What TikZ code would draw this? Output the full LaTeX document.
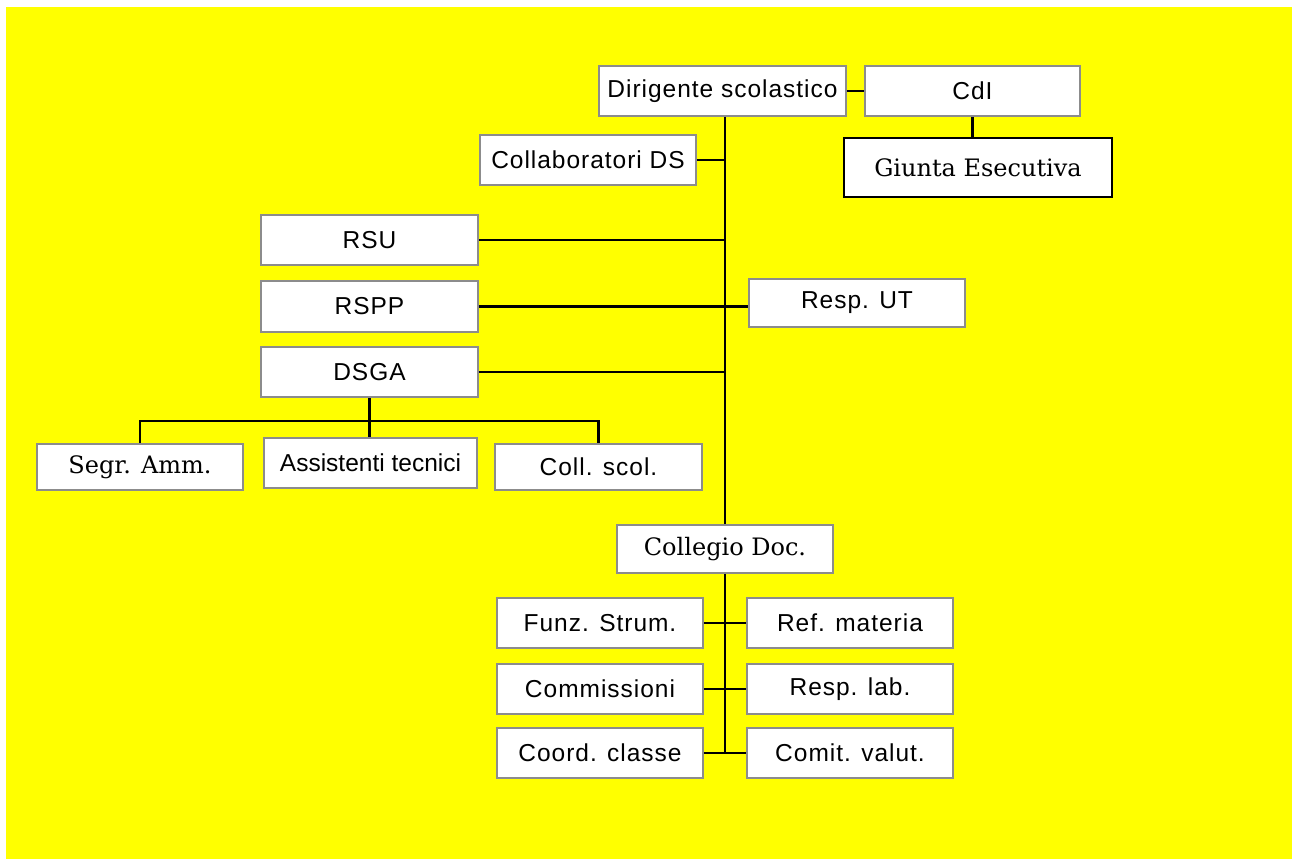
\documentclass[tikz,border=0pt]{standalone}
\usepackage{fontspec}
\setmainfont{Liberation Sans}[LetterSpace=4]
\newfontfamily\slabfont{DejaVu Serif}
\definecolor{bgyellow}{RGB}{255,255,0}
\definecolor{boxgray}{RGB}{140,140,140}
\begin{document}
\begin{tikzpicture}[x=1pt,y=-1pt,
  box/.style={draw=boxgray,line width=1.6pt,fill=white,inner sep=0pt,
    minimum width=216pt,minimum height=50pt,font=\fontsize{24.5}{28}\selectfont},
  serifbox/.style={box,font=\slabfont\fontsize{24}{28}\selectfont},
  link/.style={draw=black,line width=2.2pt}]
\useasboundingbox (0,0) rectangle (1292,859);
\fill[white] (0,0) rectangle (1292,859);
\fill[bgyellow] (6,7) rectangle (1292,859);

% nodes
\node[box,minimum width=247pt] (ds) at (722.5,91) {Dirigente scolastico};
\node[box,minimum width=215pt] (cdi) at (972.5,91) {CdI};
\node[serifbox,draw=black,line width=2pt,minimum width=268pt,minimum height=59pt] (giunta) at (978,167.5) {Giunta Esecutiva};
\node[box] (collab) at (588,160) {Collaboratori DS};
\node[box,minimum width=217pt] (rsu) at (369.5,240) {RSU};
\node[box,minimum width=217pt,minimum height=51pt] (rspp) at (369.5,306.5) {RSPP};
\node[box,minimum width=217pt] (dsga) at (369.5,372) {DSGA};
\node[box,minimum height=48pt] (resput) at (857,303) {Resp. UT};
\node[serifbox,minimum width=206pt,minimum height=46pt] (segr) at (140,467) {Segr. Amm.};
\node[box,minimum width=213pt,font=\addfontfeature{LetterSpace=0}\fontsize{24.5}{28}\selectfont] (assist) at (370.5,463) {Assistenti tecnici};
\node[box,minimum width=207pt,minimum height=46pt] (collscol) at (598.5,467) {Coll. scol.};
\node[serifbox,minimum height=48pt] (collegio) at (725,549) {Collegio Doc.};
\node[box,minimum width=206pt] (funz) at (600,623) {Funz. Strum.};
\node[box,minimum width=206pt] (refmat) at (850,623) {Ref. materia};
\node[box,minimum width=206pt] (comm) at (600,689) {Commissioni};
\node[box,minimum width=206pt] (resplab) at (850,689) {Resp. lab.};
\node[box,minimum width=206pt] (coord) at (600,753) {Coord. classe};
\node[box,minimum width=206pt] (comit) at (850,753) {Comit. valut.};

\coordinate (bar) at (0,421);

% connectors
\draw[link] (ds.east) -- (cdi.west);
\draw[link] (cdi.south) -- (cdi.south |- giunta.north);
\draw[link] (collegio.north |- ds.south) -- (collegio.north);
\draw[link] (collab.east) -- (collab.east -| collegio.north);
\draw[link] (rsu.east) -- (rsu.east -| collegio.north);
\draw[link] (rspp.east) -- (rspp.east -| resput.west);
\draw[link] (dsga.east) -- (dsga.east -| collegio.north);
\draw[link] (dsga.south) -- (dsga.south |- assist.north);
\draw[link] (segr.north) -- (segr.north |- bar) -- (collscol.north |- bar) -- (collscol.north);
\draw[link] (collegio.south) -- (collegio.south |- coord.east);
\draw[link] (funz.east) -- (refmat.west);
\draw[link] (comm.east) -- (resplab.west);
\draw[link] (coord.east) -- (comit.west);
\end{tikzpicture}
\end{document}
